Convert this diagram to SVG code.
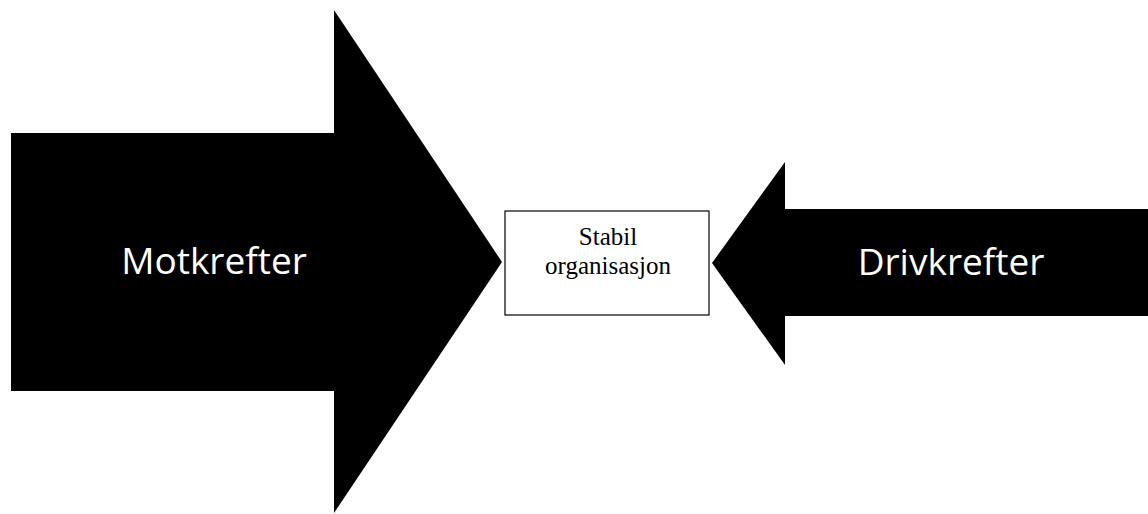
<svg xmlns="http://www.w3.org/2000/svg" width="1148" height="514" viewBox="0 0 1148 514">
  <style>
    .force { fill: #000; }
    .force-label { font-family: "Open Sans", "Liberation Sans", sans-serif; font-size: 37px; fill: #fff; text-anchor: middle; }
    .box { fill: #fff; stroke: #000; stroke-width: 1.2; }
    .box-label { font-family: "Liberation Serif", "Times New Roman", serif; font-size: 25px; fill: #000; text-anchor: middle; }
  </style>
  <rect width="1148" height="514" fill="#fff"/>

  <!-- block arrows pointing at the centre box -->
  <g id="connectors">
    <g id="motkrefter">
      <polygon class="force" points="11,133 334,133 334,10 502,262 334,513 334,391 11,391"/>
      <text class="force-label" x="214" y="274">Motkrefter</text>
    </g>
    <g id="drivkrefter">
      <polygon class="force" points="1148,209 785,209 785,162 712,263 785,365 785,316 1148,316"/>
      <text class="force-label" x="951" y="275">Drivkrefter</text>
    </g>
  </g>

  <g id="stabil-organisasjon">
    <rect class="box" x="505" y="211" width="204" height="104"/>
    <text class="box-label" x="608" y="245">Stabil</text>
    <text class="box-label" x="608" y="274">organisasjon</text>
  </g>
</svg>
